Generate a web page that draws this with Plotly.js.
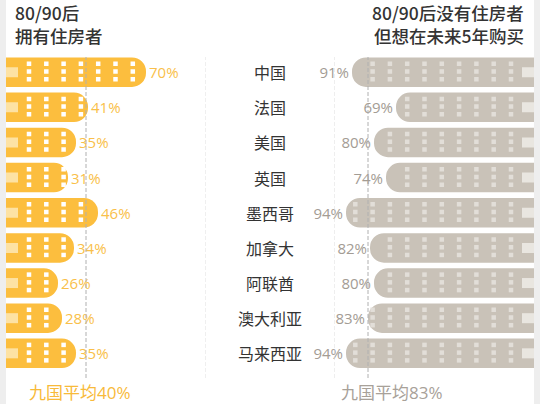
<!DOCTYPE html>
<html><head><meta charset="utf-8">
<script src="https://cdn.plot.ly/plotly-3.0.1.min.js"></script>
<style>html,body{margin:0;padding:0;background:#fff}#chart{width:540px;height:404px}</style>
</head><body><div id="chart"></div>
<script>
// ---- data ----
const countries = ["中国","法国","美国","英国","墨西哥","加拿大","阿联酋","澳大利亚","马来西亚"];
const ownHome = [70,41,35,31,46,34,26,28,35];
const planToBuy = [91,69,80,74,94,82,80,83,94];
const avgOwn = 40;
const avgPlan = 83;
const leftTitle = ["80/90后", "拥有住房者"];
const rightTitle = ["80/90后没有住房者", "但想在未来5年购买"];
const avgPrefix = "九国平均";

// ---- styles ----
const ORANGE = "#fcbe3e", ORANGE_TXT = "#f9bf4a", ORANGE_LIGHT = "#fde2a4";
const GRAY = "#c9c2b8", GRAY_TXT = "#a39c94", GRAY_DOT = "#e2ded8", GRAY_LIGHT = "#e9e6e0";
const LATIN = "Open Sans, Noto Sans CJK SC, sans-serif";
const CJK = "Noto Sans CJK SC, sans-serif";
const yIdx = countries.map((_, i) => i);

// decorative window dots, derived from each bar's value (1% = 2px)
function windowDots(values) {
  const xs = [], ys = [];
  const rows = [-0.24, -0.02, 0.2];
  values.forEach((v, i) => {
    for (let c = 11.5; c <= v - 2; c += 8.65) {
      rows.forEach(o => { xs.push(c); ys.push(i + o); });
    }
  });
  return {xs, ys};
}
const dL = windowDots(ownHome), dR = windowDots(planToBuy);

const traces = [
  {type:"bar", orientation:"h", x:ownHome, y:yIdx, xaxis:"x", yaxis:"y", width:0.84,
   marker:{color:ORANGE, cornerradius:"50%"}, texttemplate:"%{x}%", textposition:"outside",
   textfont:{family:LATIN, size:15, color:ORANGE_TXT}, cliponaxis:false, constraintext:"none", hoverinfo:"skip"},
  {type:"bar", orientation:"h", x:ownHome.map(()=>6), y:yIdx, xaxis:"x", yaxis:"y", width:0.285,
   marker:{color:ORANGE_LIGHT, cornerradius:0}, hoverinfo:"skip"},
  {type:"scatter", mode:"markers", x:dL.xs, y:dL.ys, xaxis:"x", yaxis:"y",
   marker:{symbol:"square", size:4.5, color:"#ffffff"}, hoverinfo:"skip"},
  {type:"bar", orientation:"h", x:planToBuy, y:yIdx, xaxis:"x2", yaxis:"y", width:0.84,
   marker:{color:GRAY, cornerradius:"50%"}, texttemplate:"%{x}%", textposition:"outside",
   textfont:{family:LATIN, size:15, color:GRAY_TXT}, cliponaxis:false, constraintext:"none", hoverinfo:"skip"},
  {type:"bar", orientation:"h", x:planToBuy.map(()=>6), y:yIdx, xaxis:"x2", yaxis:"y", width:0.285,
   marker:{color:GRAY_LIGHT, cornerradius:0}, hoverinfo:"skip"},
  {type:"scatter", mode:"markers", x:dR.xs, y:dR.ys, xaxis:"x2", yaxis:"y",
   marker:{symbol:"square", size:4.5, color:GRAY_DOT}, hoverinfo:"skip"}
];

const W = 540, H = 404;
const px = v => v / W, py = v => 1 - v / H;
const hidden = {showgrid:false, zeroline:false, showticklabels:false, ticks:"", showline:false, fixedrange:true};

const annotations = countries.map((c, i) => ({
  xref:"paper", yref:"y", x:0.5, y:i, text:c, showarrow:false, xanchor:"center", yanchor:"middle",
  font:{family:CJK, size:16, color:"#333"}
}));
const titleFont = {family:CJK, size:17.5, color:"#333", weight:500};
[12.5, 35.5].forEach((yc, k) => {
  annotations.push(
    {xref:"paper", yref:"paper", x:px(14), y:py(yc), text:leftTitle[k], showarrow:false, xanchor:"left", yanchor:"middle", borderpad:0, font:titleFont},
    {xref:"paper", yref:"paper", x:px(525), y:py(yc), text:rightTitle[k], showarrow:false, xanchor:"right", yanchor:"middle", borderpad:0, font:titleFont}
  );
});
annotations.push(
  {xref:"paper", yref:"paper", x:px(27), y:py(392), text:avgPrefix + avgOwn + "%", showarrow:false, xanchor:"left", yanchor:"middle",
   font:{family:LATIN, size:17, color:"#f8ba3a"}},
  {xref:"paper", yref:"paper", x:px(339), y:py(392), text:avgPrefix + avgPlan + "%", showarrow:false, xanchor:"left", yanchor:"middle",
   font:{family:LATIN, size:17, color:"#a8a199"}}
);

const shapes = [
  {type:"rect", xref:"paper", yref:"paper", x0:0, x1:px(6), y0:0, y1:1, fillcolor:"#eeeeee", line:{width:0}, layer:"below"},
  {type:"rect", xref:"paper", yref:"paper", x0:px(534), x1:1, y0:0, y1:1, fillcolor:"#eeeeee", line:{width:0}, layer:"below"},
  {type:"line", xref:"x", yref:"paper", x0:100, x1:100, y0:py(378), y1:py(57), line:{color:"#dedede", width:1, dash:"4px,2px"}},
  {type:"line", xref:"x2", yref:"paper", x0:100, x1:100, y0:py(378), y1:py(57), line:{color:"#dedede", width:1, dash:"4px,2px"}},
  {type:"line", xref:"x", yref:"paper", x0:avgOwn, x1:avgOwn, y0:py(378), y1:py(57), line:{color:"#b0b0b0", width:1, dash:"4px,2px"}},
  {type:"line", xref:"x2", yref:"paper", x0:avgPlan, x1:avgPlan, y0:py(378), y1:py(57), line:{color:"#b0b0b0", width:1, dash:"4px,2px"}}
];

const layout = {
  width:W, height:H, margin:{l:0, r:0, t:0, b:0}, paper_bgcolor:"#fff", plot_bgcolor:"rgba(0,0,0,0)",
  showlegend:false, barmode:"overlay", hovermode:false,
  xaxis:Object.assign({domain:[px(6), px(206)], range:[0,100], anchor:"y"}, hidden),
  xaxis2:Object.assign({domain:[px(334), px(534)], range:[100,0], anchor:"y"}, hidden),
  yaxis:Object.assign({domain:[py(370.9), py(54.6)], range:[8.5,-0.5]}, hidden),
  annotations, shapes
};

Plotly.newPlot("chart", traces, layout, {staticPlot:true, displayModeBar:false});
</script></body></html>
